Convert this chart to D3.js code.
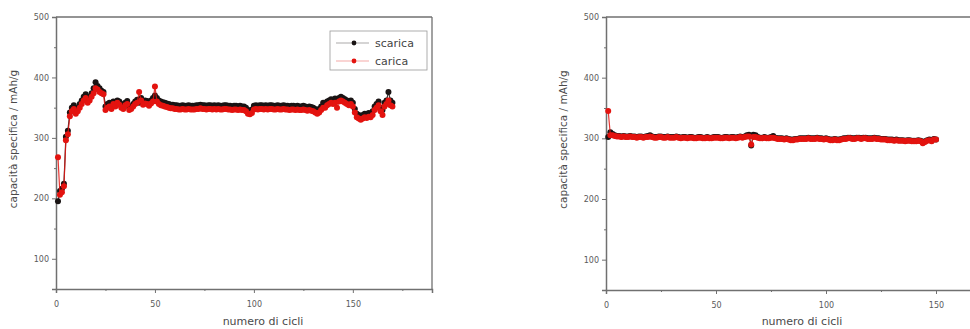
<!DOCTYPE html>
<html><head><meta charset="utf-8">
<script src="https://cdn.jsdelivr.net/npm/d3@7"></script>
<style>
body{margin:0;background:#fff;overflow:hidden}
text{font-family:"DejaVu Sans",sans-serif}
</style></head>
<body><svg id="c" width="970" height="329"></svg>
<script>
const yTicks=[100,200,300,400,500];
const yMinor=[150,250,350,450];
const xTicks=[0,50,100,150];
const xMinor=[25,75,125,175];
const legendLabels=["scarica","carica"];
const xTitle="numero di cicli";
const yTitle="capacità specifica / mAh/g";

const scaricaL=[195,212,216,224,302,312,342,350,354,346,
350,356,362,368,372,364,368,374,382,392,
386,382,378,376,352,356,358,354,360,357,
362,360,356,352,358,361,350,352,356,360,
363,358,366,360,362,361,358,362,366,370,
366,362,360,359,358,357,356,355,355,354,
354,353,353,354,353,353,354,353,353,353,
354,354,355,354,354,353,354,354,353,354,
353,354,353,353,354,354,353,353,352,353,
353,352,353,352,352,350,346,345,347,353,
354,353,354,354,353,354,353,354,354,353,
353,354,353,353,354,353,353,352,353,353,
352,353,352,352,353,352,351,352,351,350,
348,346,348,352,358,356,360,362,364,362,
365,364,366,368,366,364,362,360,362,358,
348,340,338,336,338,340,339,341,340,344,
352,356,360,350,346,358,362,376,362,358];
const caricaL=[268,206,210,220,296,306,336,344,348,340,
344,350,356,362,366,358,362,368,374,382,
380,376,374,372,346,350,352,348,356,352,
358,355,350,348,354,356,346,348,352,356,
358,376,362,355,357,356,353,357,360,385,
360,356,354,353,352,351,350,349,349,348,
348,347,347,348,347,347,348,347,347,347,
348,348,349,348,348,347,348,348,347,348,
347,348,347,347,348,348,347,347,346,347,
347,346,347,346,346,344,340,339,341,347,
348,347,348,348,347,348,347,348,348,347,
347,348,347,347,348,347,347,346,347,347,
346,347,346,346,347,346,345,346,345,344,
342,340,342,346,350,350,354,356,358,356,
358,350,360,362,360,358,356,354,356,352,
342,334,332,330,332,334,333,335,334,338,
346,350,354,344,338,352,356,362,354,352];

const scaricaR=[302,310,307,305,304,304,303,304,303,303,
304,303,303,302,303,303,302,303,304,305,
303,302,302,303,303,302,302,303,302,302,
302,303,302,301,302,302,301,302,302,301,
301,302,302,301,301,302,301,301,302,302,
302,301,301,302,302,301,302,302,301,302,
303,302,303,305,306,288,306,305,302,301,
301,302,301,301,302,304,301,300,300,300,
299,300,299,298,298,299,299,300,300,300,
300,301,300,300,300,301,300,300,299,300,
299,298,298,299,298,298,299,300,300,301,
301,300,300,301,301,300,301,301,300,300,
300,301,300,300,299,299,299,298,298,298,
297,298,297,297,297,296,297,297,296,296,
296,297,296,293,295,297,298,296,299,298];
const caricaR=[345,305,305,304,303,303,302,303,302,302,
303,302,302,301,302,302,301,302,302,303,
302,301,301,302,302,301,301,302,301,301,
301,302,301,300,301,301,300,301,301,300,
300,301,301,300,300,301,300,300,301,301,
301,300,300,301,301,300,301,301,300,301,
302,301,302,303,303,290,302,302,301,300,
300,301,300,300,301,301,300,299,299,299,
298,299,298,297,297,298,298,299,299,299,
299,300,299,299,299,300,299,299,298,299,
298,297,297,298,297,297,298,299,299,300,
300,299,299,300,300,299,300,300,299,299,
299,300,299,299,298,298,298,297,297,297,
296,297,296,296,296,295,296,296,295,295,
295,296,295,292,294,296,297,295,298,298];

const BLACK="#1a1414", RED="#e3130f", AX="#707070", TXT="#5a5a5a";
const svg=d3.select("#c");

function panel(cfg){
  const g=svg.append("g");
  const x=d3.scaleLinear().domain([0,190]).range([cfg.left,cfg.right]);
  const y=d3.scaleLinear().domain([50,500]).range([cfg.bottom,cfg.top]);
  g.append("line").attr("x1",cfg.left).attr("x2",cfg.right).attr("y1",cfg.top).attr("y2",cfg.top).attr("stroke",AX).attr("stroke-width",1.3);
  g.append("line").attr("x1",cfg.right).attr("x2",cfg.right).attr("y1",cfg.top).attr("y2",cfg.bottom).attr("stroke",AX).attr("stroke-width",1.3);
  const ya=d3.axisLeft(y).tickValues(yTicks).tickSize(4).tickPadding(3).tickFormat(d3.format("d"));
  const xa=d3.axisBottom(x).tickValues(xTicks).tickSize(4).tickPadding(8).tickFormat(d3.format("d"));
  const gy=g.append("g").attr("transform",`translate(${cfg.left},0)`).call(ya);
  const gx=g.append("g").attr("transform",`translate(0,${cfg.bottom})`).call(xa);
  [gx,gy].forEach(a=>{
    a.select(".domain").attr("stroke",AX).attr("stroke-width",1.5);
    a.selectAll(".tick line").attr("stroke",AX);
    a.selectAll(".tick text").attr("fill",TXT).style("font-size","8px").style("font-family","DejaVu Sans, sans-serif");
  });
  g.append("g").attr("transform",`translate(${cfg.left},0)`).call(d3.axisLeft(y).tickValues(yMinor).tickSize(2).tickFormat(""))
    .call(a=>{a.select(".domain").remove();a.selectAll("line").attr("stroke",AX);});
  g.append("g").attr("transform",`translate(0,${cfg.bottom})`).call(d3.axisBottom(x).tickValues(xMinor).tickSize(2).tickFormat(""))
    .call(a=>{a.select(".domain").remove();a.selectAll("line").attr("stroke",AX);});
  g.append("text").attr("x",cfg.xtx).attr("y",325).attr("text-anchor","middle").attr("fill","#4a4a4a").style("font-size","11px").text(xTitle);
  g.append("text").attr("transform",`translate(${cfg.ytx},${(cfg.top+cfg.bottom)/2-14}) rotate(-90)`).attr("text-anchor","middle").attr("fill","#4a4a4a").style("font-size","10.5px").text(yTitle);
  const line=d3.line().x((d,i)=>x(i+1)).y(d=>y(d));
  [[cfg.s,BLACK],[cfg.c,RED]].forEach(([arr,col])=>{
    g.append("path").datum(arr).attr("d",line).attr("fill","none").attr("stroke",col).attr("stroke-width",1.2).attr("opacity",0.85);
    g.append("g").selectAll("circle").data(arr).join("circle")
      .attr("cx",(d,i)=>x(i+1)).attr("cy",d=>y(d)).attr("r",3).attr("fill",col);
  });
  return {x,y};
}

panel({left:56,right:432,top:17,bottom:289,s:scaricaL,c:caricaL,xtx:263,ytx:17});
panel({left:606,right:1024,top:17,bottom:290,s:scaricaR,c:caricaR,xtx:802,ytx:567});

const lg=svg.append("g");
lg.append("rect").attr("x",330).attr("y",31).attr("width",97).attr("height",39).attr("fill","#fff").attr("stroke","#999").attr("stroke-width",0.8);
[BLACK,RED].forEach((col,i)=>{
  const yy=43+i*18;
  lg.append("line").attr("x1",336).attr("x2",369).attr("y1",yy).attr("y2",yy).attr("stroke",col).attr("stroke-width",0.6).attr("opacity",0.6);
  lg.append("circle").attr("cx",354).attr("cy",yy).attr("r",2.4).attr("fill",col);
  lg.append("text").attr("x",375).attr("y",yy+4).attr("fill","#444").style("font-size","11px").text(legendLabels[i]);
});
</script></body></html>
